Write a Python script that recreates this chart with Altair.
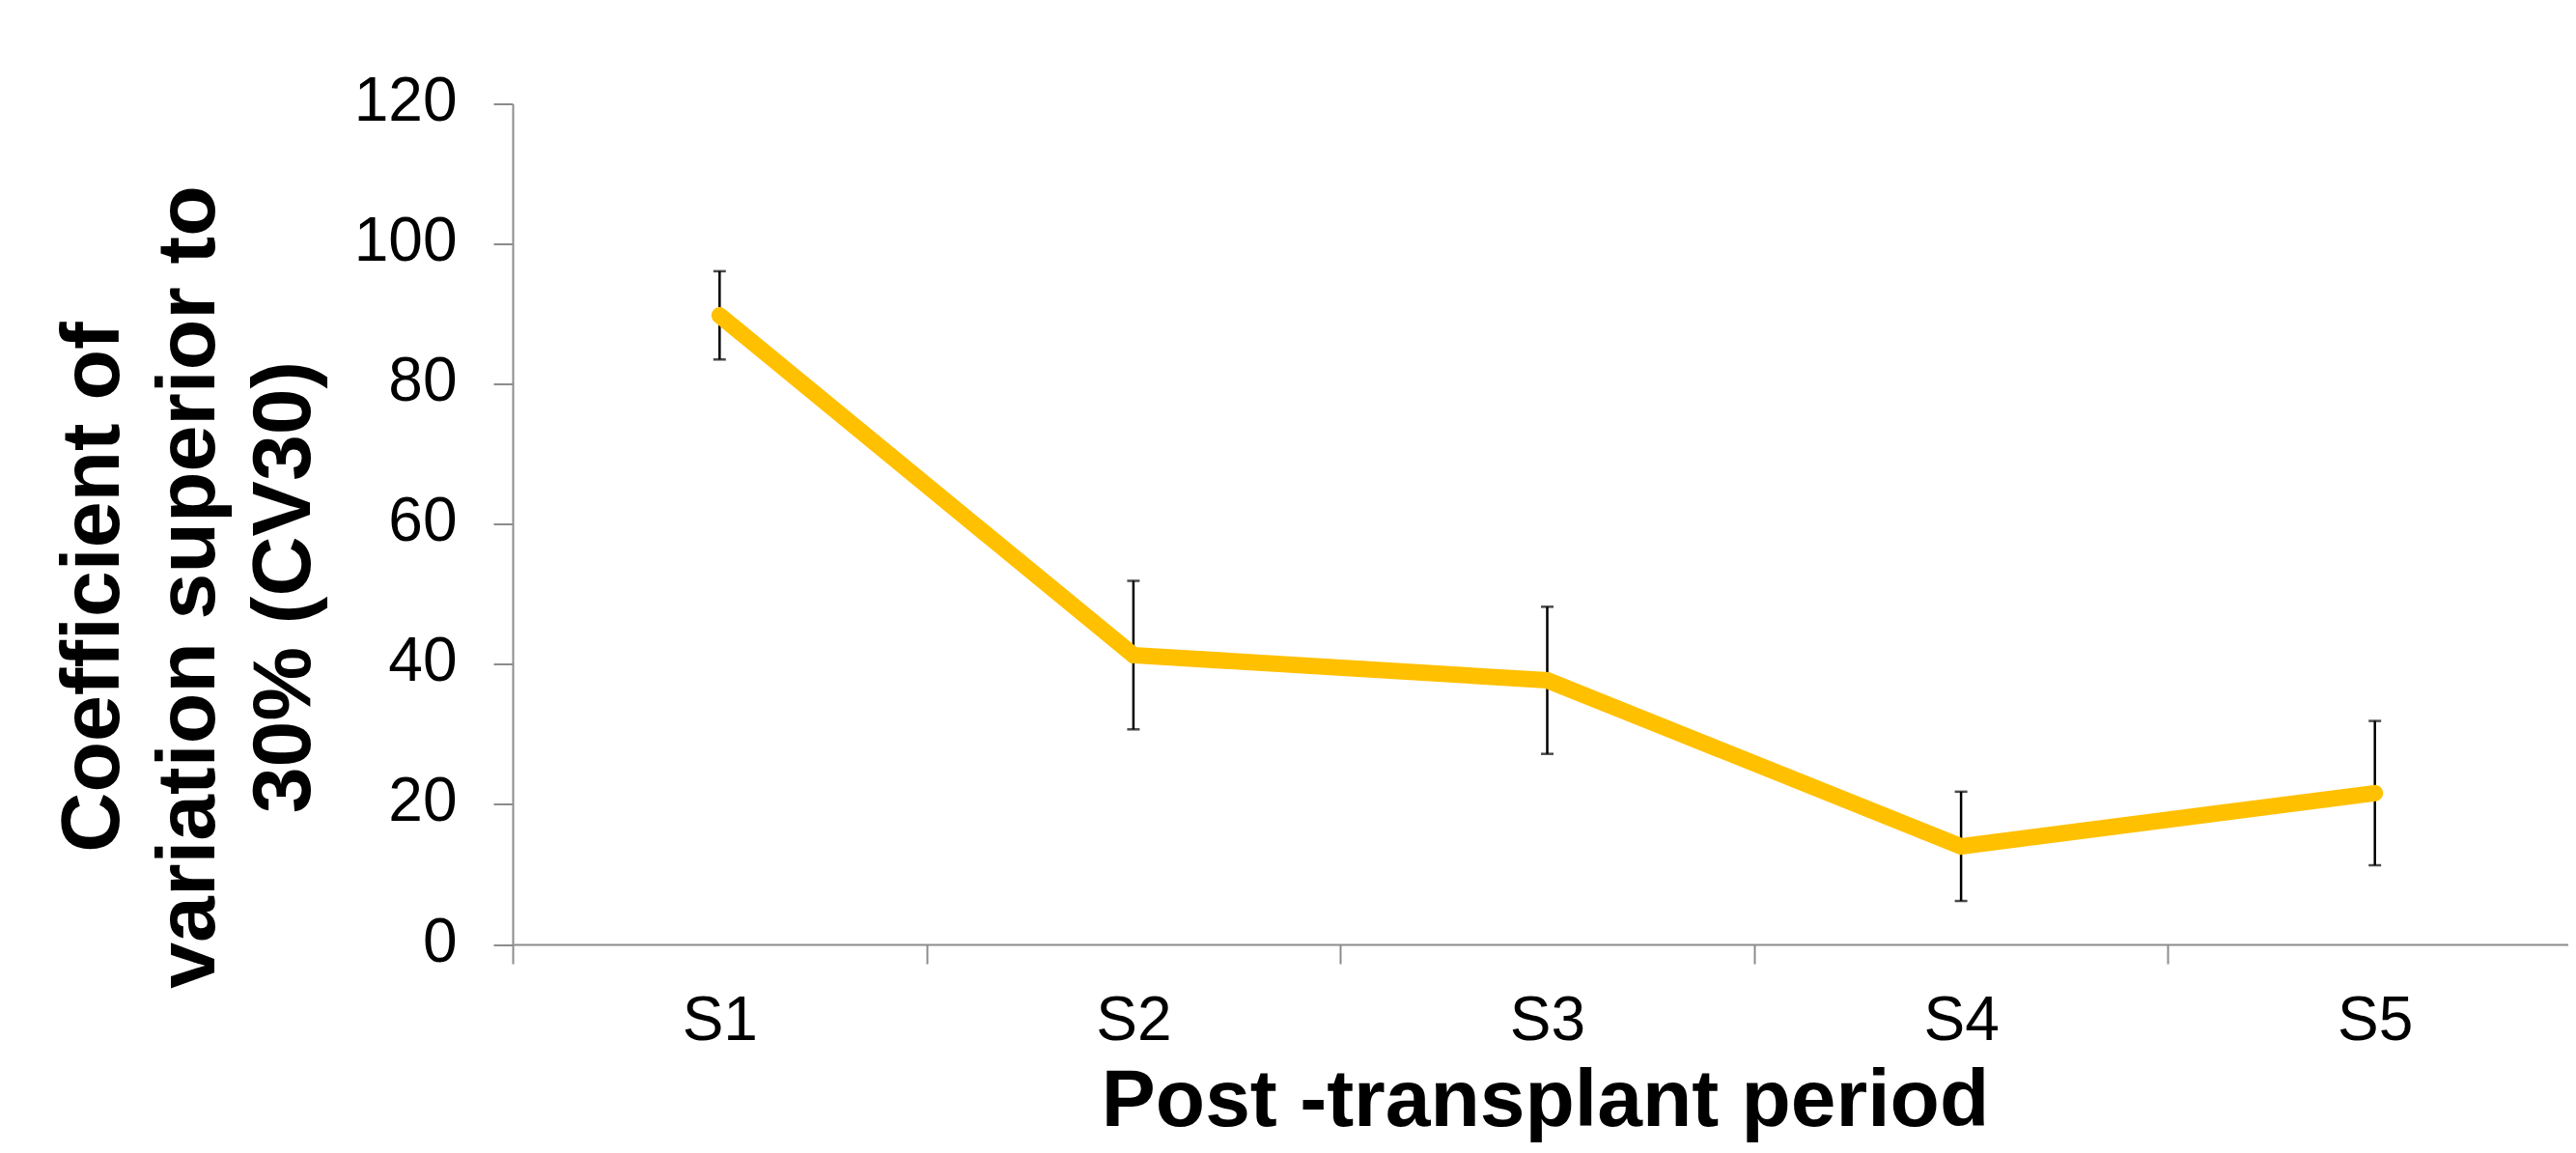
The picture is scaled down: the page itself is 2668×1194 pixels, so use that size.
import altair as alt
import pandas as pd

periods = ["S1", "S2", "S3", "S4", "S5"]
cv30_mean = [89.8, 41.3, 37.7, 14.0, 21.6]
cv30_err = [6.3, 10.6, 10.5, 7.8, 10.3]

df = pd.DataFrame({"period": periods, "mean": cv30_mean, "err": cv30_err})
df["lo"] = df["mean"] - df["err"]
df["hi"] = df["mean"] + df["err"]

FONT = "Liberation Sans"
AXIS_GRAY = "#8c8c8c"

x_enc = alt.X(
    "period:N",
    sort=periods,
    bandPosition=0.5,
    scale=alt.Scale(type="band", paddingInner=0, paddingOuter=0, range=[0, 2143]),
    axis=alt.Axis(
        title="Post -transplant period",
        titleFont=FONT, titleFontSize=84, titleFontWeight="bold", titleColor="black",
        titleBaseline="top", titleY=121, titleX=1069, titleAnchor="middle",
        labelFont=FONT, labelFontSize=64, labelColor="black", labelPadding=27,
        labelAngle=0,
        tickBand="extent", tickSize=20, tickColor=AXIS_GRAY, tickWidth=2,
        domainColor=AXIS_GRAY, domainWidth=2, grid=False,
    ),
)

y_scale = alt.Scale(domain=[0, 120], nice=False, zero=True)
y_axis = alt.Axis(
    title=["Coefficient of", "variation superior to", "30% (CV30)"],
    titleFont=FONT, titleFontSize=86, titleFontWeight="bold", titleColor="black",
    titleAngle=270, titleAlign="center", titleBaseline="top",
    titleX=-477, titleY=500, titleLineHeight=99,
    values=[0, 20, 40, 60, 80, 100, 120],
    labelFont=FONT, labelFontSize=64, labelColor="black", labelPadding=38,
    labelOffset=-2,
    tickSize=20, tickColor=AXIS_GRAY, tickWidth=2,
    domainColor=AXIS_GRAY, domainWidth=2, grid=False,
)

base = alt.Chart(df)

rules = base.mark_rule(color="black", strokeWidth=2.5).encode(
    x=x_enc,
    y=alt.Y("lo:Q", scale=y_scale, axis=y_axis),
    y2="hi:Q",
)
caps_lo = base.mark_tick(color="black", size=13, thickness=2.5).encode(
    x=x_enc, y=alt.Y("lo:Q", scale=y_scale, axis=y_axis)
)
caps_hi = base.mark_tick(color="black", size=13, thickness=2.5).encode(
    x=x_enc, y=alt.Y("hi:Q", scale=y_scale, axis=y_axis)
)
line = base.mark_line(color="#FFC000", strokeWidth=17, strokeCap="round").encode(
    x=x_enc,
    y=alt.Y("mean:Q", scale=y_scale, axis=y_axis),
)

chart = (
    alt.layer(rules, caps_lo, caps_hi, line)
    .properties(
        width=2129,
        height=870.5,
        background="white",
        autosize=alt.AutoSizeParams(type="none"),
        padding={"left": 523, "top": 99.5, "right": 0, "bottom": 205.5},
    )
    .configure_view(strokeWidth=0, stroke=None)
)

chart.save("out.html", embed_options={"renderer": "svg", "actions": False})
